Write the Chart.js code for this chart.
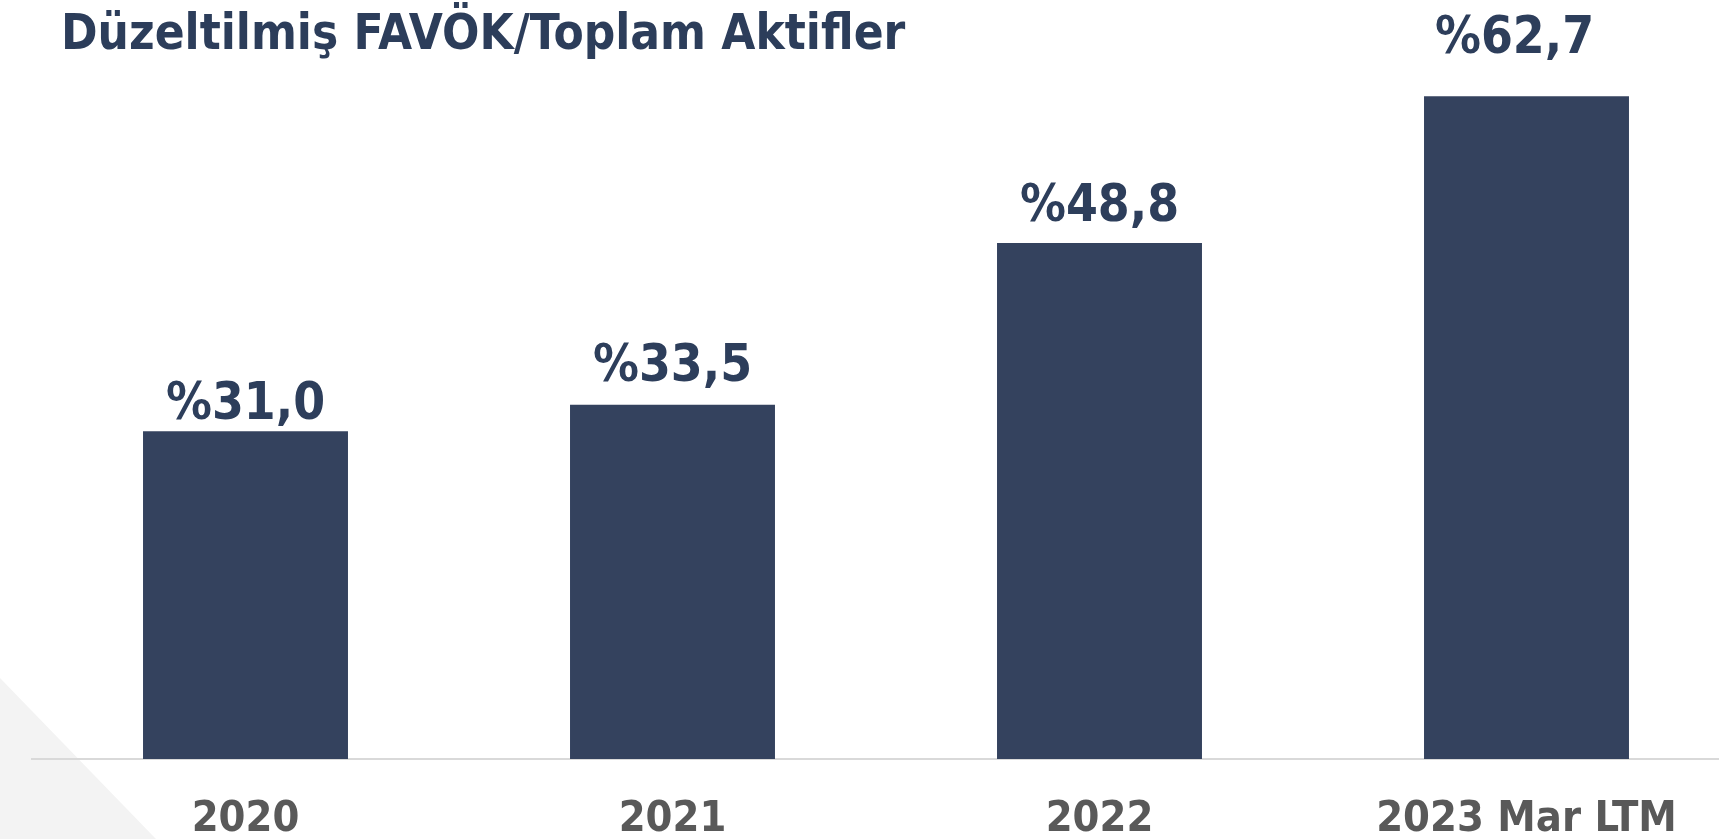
<!DOCTYPE html>
<html lang="tr">
<head>
<meta charset="utf-8">
<title>Düzeltilmiş FAVÖK/Toplam Aktifler</title>
<script src="https://cdn.jsdelivr.net/npm/chart.js@4.4.1/dist/chart.umd.min.js"></script>
<style>
  html, body { margin: 0; padding: 0; background: #ffffff; overflow: hidden; width: 1719px; height: 839px; }
  #wrap { position: absolute; left: 0; top: 0; width: 1719px; height: 839px; overflow: hidden; }
  #tri { position: absolute; left: 0; top: 0; width: 1719px; height: 839px; background: #F3F3F3;
         clip-path: polygon(0px 678px, 156px 839px, 0px 839px); }
  #title { position: absolute; left: 61px; top: 8px; margin: 0; font-family: 'DejaVu Sans Condensed', 'DejaVu Sans', sans-serif;
           font-weight: bold; font-size: 49px; line-height: 49px; color: #2C3D5A; white-space: nowrap; }
  #cv { position: absolute; left: 0; top: 0; }
</style>
</head>
<body>
<div id="wrap">
  <div id="tri"></div>
  <canvas id="cv" width="1760" height="881"></canvas>
  <h1 id="title">Düzeltilmiş FAVÖK/Toplam Aktifler</h1>
</div>
<script>
const categories = ['2020', '2021', '2022', '2023 Mar LTM'];
const values = [31.0, 33.5, 48.8, 62.7];
const valueLabels = values.map(v => '%' + v.toFixed(1).replace('.', ','));

const FONT = "'DejaVu Sans Condensed', 'DejaVu Sans', sans-serif";

const valueLabelPlugin = {
  id: 'valueLabels',
  afterDatasetsDraw(chart, args, opts) {
    const ctx = chart.ctx;
    const meta = chart.getDatasetMeta(0);
    ctx.save();
    ctx.font = 'bold ' + opts.size + 'px ' + FONT;
    ctx.fillStyle = opts.color;
    ctx.textAlign = 'center';
    ctx.textBaseline = 'alphabetic';
    meta.data.forEach((bar, i) => {
      const gap = opts.gaps[i];
      const dx = opts.shifts[i];
      ctx.fillText(valueLabels[i], bar.x + dx, bar.y - gap);
    });
    ctx.restore();
  }
};

new Chart(document.getElementById('cv'), {
  type: 'bar',
  data: {
    labels: categories,
    datasets: [{
      data: values,
      backgroundColor: '#34425E',
      borderWidth: 0,
      categoryPercentage: 1.0,
      barPercentage: 0.48
    }]
  },
  options: {
    responsive: false,
    animation: false,
    devicePixelRatio: 1,
    layout: { padding: { left: 32, right: 20, top: 19, bottom: 0 } },
    plugins: {
      legend: { display: false },
      tooltip: { enabled: false },
      title: { display: false },
      valueLabels: { size: 51, color: '#2D3E5B', gaps: [12, 24, 22, 43], shifts: [0, 0, 0, -12] }
    },
    scales: {
      x: {
        grid: { display: false, drawTicks: false },
        border: { display: true, color: '#D9D9D9', width: 2 },
        ticks: {
          color: '#595959',
          font: { family: FONT, size: 43, weight: 'bold', lineHeight: 1.2 },
          padding: 35.2,
          maxRotation: 0,
          autoSkip: false
        }
      },
      y: {
        display: false,
        min: 0,
        max: 70
      }
    }
  },
  plugins: [valueLabelPlugin]
});
</script>
</body>
</html>
